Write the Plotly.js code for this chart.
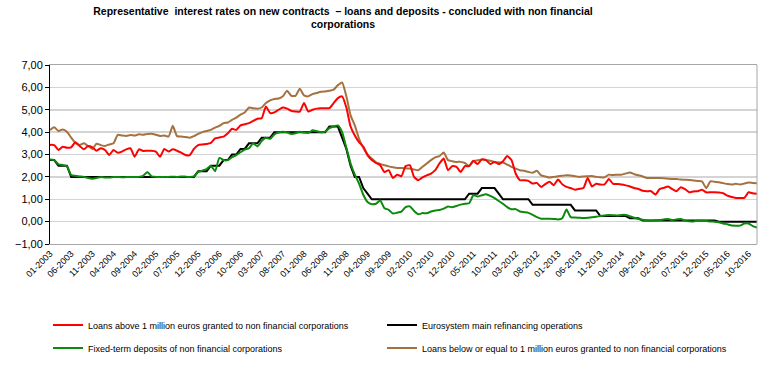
<!DOCTYPE html>
<html>
<head>
<meta charset="utf-8">
<script src="https://cdn.plot.ly/plotly-3.0.1.min.js"></script>
<style>
html,body{margin:0;padding:0;background:#fff;}
#chart{width:771px;height:379px;}
</style>
</head>
<body>
<div id="chart"></div>
<script>
// Monthly categories 01-2003 .. 12-2016
const startYear = 2003, endYear = 2016;
const months = [];
for (let y = startYear; y <= endYear; y++) {
  for (let m = 1; m <= 12; m++) months.push((m < 10 ? '0' : '') + m + '-' + y);
}

const seriesNames = [
  'Loans above 1 million euros granted to non financial corporations',
  'Eurosystem main refinancing operations',
  'Fixed-term deposits of non financial corporations',
  'Loans below or equal to 1 million euros granted to non financial corporations'
];

const loansAbove1M = [
  3.43,3.42,3.20,3.35,3.30,3.32,3.55,3.38,3.23,3.38,3.32,3.17,
  3.28,3.20,2.98,3.20,3.08,3.13,3.23,3.28,2.90,3.23,3.16,3.17,
  3.17,3.13,2.90,3.25,3.13,3.23,3.17,3.08,2.98,2.97,3.25,3.42,
  3.45,3.47,3.52,3.72,3.76,3.80,3.95,4.15,4.10,4.30,4.35,4.40,
  4.50,4.60,4.62,5.15,4.85,4.88,5.00,5.10,5.05,4.95,4.92,4.92,
  5.30,4.92,5.00,5.05,5.07,5.07,5.07,5.30,5.52,5.60,5.10,4.25,
  3.85,3.55,3.35,2.97,2.75,2.62,2.52,2.22,2.30,1.95,2.10,2.03,
  2.48,2.52,2.00,1.85,1.98,2.07,2.15,2.30,2.60,2.82,2.30,2.48,
  2.45,2.22,2.48,2.48,2.72,2.57,2.78,2.75,2.57,2.67,2.57,2.70,
  2.93,2.75,2.15,1.85,1.85,1.82,1.70,1.73,1.55,1.68,1.78,1.63,
  1.88,1.67,1.55,1.50,1.43,1.46,1.50,1.95,1.57,1.69,1.66,1.66,
  1.91,1.69,1.68,1.66,1.62,1.57,1.50,1.46,1.38,1.36,1.36,1.21,
  1.45,1.51,1.57,1.45,1.36,1.54,1.45,1.31,1.35,1.36,1.42,1.31,
  1.31,1.31,1.30,1.27,1.16,1.10,1.06,1.06,1.06,1.31,1.27,1.24
];

const mainRefinancing = [
  2.75,2.75,2.50,2.50,2.50,2.00,2.00,2.00,2.00,2.00,2.00,2.00,
  2.00,2.00,2.00,2.00,2.00,2.00,2.00,2.00,2.00,2.00,2.00,2.00,
  2.00,2.00,2.00,2.00,2.00,2.00,2.00,2.00,2.00,2.00,2.00,2.25,
  2.25,2.25,2.50,2.50,2.50,2.75,2.75,3.00,3.00,3.25,3.25,3.50,
  3.50,3.50,3.75,3.75,3.75,4.00,4.00,4.00,4.00,4.00,4.00,4.00,
  4.00,4.00,4.00,4.00,4.00,4.00,4.25,4.25,4.25,3.75,3.25,2.50,
  2.00,2.00,1.50,1.25,1.00,1.00,1.00,1.00,1.00,1.00,1.00,1.00,
  1.00,1.00,1.00,1.00,1.00,1.00,1.00,1.00,1.00,1.00,1.00,1.00,
  1.00,1.00,1.00,1.25,1.25,1.25,1.50,1.50,1.50,1.50,1.25,1.00,
  1.00,1.00,1.00,1.00,1.00,1.00,0.75,0.75,0.75,0.75,0.75,0.75,
  0.75,0.75,0.75,0.75,0.50,0.50,0.50,0.50,0.50,0.50,0.25,0.25,
  0.25,0.25,0.25,0.25,0.25,0.15,0.15,0.15,0.05,0.05,0.05,0.05,
  0.05,0.05,0.05,0.05,0.05,0.05,0.05,0.05,0.05,0.05,0.05,0.05,
  0.05,0.05,0.00,0.00,0.00,0.00,0.00,0.00,0.00,0.00,0.00,0.00
];

const fixedTermDeposits = [
  2.78,2.75,2.56,2.53,2.48,2.08,2.05,2.02,2.00,1.95,1.92,1.95,
  2.00,1.97,1.97,1.99,2.00,1.98,1.99,1.99,2.00,2.00,2.05,2.22,
  2.02,2.00,1.99,2.00,2.00,2.01,2.00,2.02,2.01,2.00,2.02,2.22,
  2.28,2.35,2.50,2.25,2.85,2.75,2.75,2.88,2.97,3.10,3.22,3.28,
  3.50,3.36,3.60,3.75,3.70,3.90,3.98,4.02,3.99,3.92,3.95,4.02,
  3.98,3.96,4.08,4.04,3.99,4.02,4.18,4.25,4.30,4.00,3.30,2.60,
  2.10,1.70,1.20,0.88,0.78,0.80,0.95,0.60,0.53,0.36,0.40,0.45,
  0.65,0.68,0.48,0.33,0.38,0.37,0.45,0.50,0.52,0.58,0.68,0.64,
  0.70,0.76,0.80,0.82,1.18,1.12,1.18,1.22,1.15,1.05,0.92,0.80,
  0.65,0.55,0.56,0.45,0.42,0.39,0.30,0.20,0.13,0.13,0.13,0.12,
  0.10,0.15,0.54,0.20,0.18,0.17,0.16,0.17,0.20,0.22,0.25,0.27,
  0.30,0.29,0.27,0.30,0.30,0.24,0.17,0.12,0.08,0.05,0.04,0.06,
  0.07,0.10,0.12,0.07,0.10,0.12,0.04,0.02,0.01,0.04,0.04,0.03,
  0.01,0.00,-0.03,-0.08,-0.12,-0.17,-0.18,-0.18,-0.08,-0.08,-0.20,-0.27
];

const loansBelow1M = [
  4.10,4.22,4.05,4.12,4.02,3.75,3.52,3.43,3.50,3.38,3.25,3.48,
  3.42,3.38,3.45,3.50,3.88,3.85,3.83,3.87,3.85,3.90,3.88,3.92,
  3.93,3.88,3.83,3.85,3.80,4.28,3.82,3.80,3.78,3.75,3.82,3.92,
  4.00,4.05,4.10,4.20,4.28,4.40,4.43,4.55,4.65,4.78,4.88,5.10,
  5.07,5.05,5.10,5.30,5.42,5.48,5.50,5.60,5.85,5.62,5.62,5.94,
  5.64,5.60,5.70,5.75,5.80,5.82,5.85,5.90,6.10,6.22,5.60,4.75,
  4.30,3.70,3.30,3.00,2.82,2.65,2.58,2.52,2.47,2.43,2.40,2.40,
  2.38,2.37,2.33,2.30,2.45,2.60,2.75,2.87,2.93,3.09,2.75,2.70,
  2.67,2.67,2.62,2.48,2.70,2.74,2.78,2.75,2.72,2.67,2.65,2.64,
  2.55,2.45,2.37,2.30,2.27,2.22,2.18,2.27,2.07,2.02,1.97,2.00,
  2.03,2.05,2.07,2.06,2.03,2.00,2.02,2.03,2.04,2.00,1.98,1.98,
  2.10,2.08,2.10,2.10,2.15,2.19,2.12,2.07,2.02,1.95,1.95,1.95,
  1.95,1.94,1.92,1.90,1.90,1.88,1.87,1.86,1.84,1.82,1.80,1.50,
  1.80,1.78,1.76,1.72,1.68,1.66,1.69,1.66,1.70,1.75,1.73,1.72
];

const tickIdx = [];
const tickText = [];
for (let i = 0; i < months.length; i += 5) { tickIdx.push(i); tickText.push(months[i]); }

const colors = ['#ff0000', '#000000', '#0b8a0b', '#a5713f'];
const values = [loansAbove1M, mainRefinancing, fixedTermDeposits, loansBelow1M];
const legendOf = ['legend', 'legend3', 'legend2', 'legend4'];

const traces = values.map((v, k) => ({
  type: 'scatter', mode: 'lines',
  x: months, y: v, name: seriesNames[k],
  xaxis: 'x2', yaxis: 'y',
  legend: legendOf[k],
  line: {color: colors[k], width: 2, shape: k === 1 ? 'linear' : 'spline', smoothing: 0.5}
}));
const order = [1, 2, 3, 0];
const data = order.map(k => traces[k]);

const legendFont = {family: 'Liberation Sans, Arial, sans-serif', size: 9, color: '#000'};
function mkLegend(xpx, ypx) {
  return {
    orientation: 'v', x: (xpx - 50) / 707, xanchor: 'left',
    y: (244 - ypx) / 179, yanchor: 'middle',
    font: legendFont, bgcolor: 'rgba(0,0,0,0)'
  };
}

const layout = {
  width: 771, height: 379,
  margin: {l: 50, r: 14, t: 65, b: 135},
  paper_bgcolor: '#ffffff', plot_bgcolor: '#ffffff',
  separators: ', ',
  font: {family: 'Liberation Sans, Arial, sans-serif', color: '#000'},
  title: {
    text: '<b>Representative  interest rates on new contracts  – loans and deposits - concluded with non financial<br>corporations</b>',
    font: {family: 'Liberation Sans, Arial, sans-serif', size: 10.5, color: '#000'},
    xref: 'container', x: 343 / 771, xanchor: 'center',
    yref: 'container', y: 0.961, yanchor: 'top'
  },
  xaxis2: {
    type: 'category', range: [0, months.length - 1],
    anchor: 'y', side: 'bottom',
    showline: true, linecolor: '#a6a6a6', linewidth: 1, mirror: true,
    showgrid: false, zeroline: false,
    tickmode: 'array', tickvals: tickIdx.map(i => months[i]), ticktext: tickText,
    ticks: '', tickangle: -45,
    tickfont: {family: 'Liberation Sans, Arial, sans-serif', size: 9, color: '#000'}
  },
  xaxis: {
    type: 'linear', range: [0, months.length - 1],
    overlaying: 'x2', anchor: 'free', position: 0.125,
    showline: true, linecolor: '#000', linewidth: 1.5,
    showgrid: false, zeroline: false,
    tickmode: 'linear', tick0: 0, dtick: 1,
    ticks: 'outside', ticklen: 4, tickwidth: 1, tickcolor: '#000',
    showticklabels: false
  },
  yaxis: {
    range: [-1, 7], dtick: 1, tick0: 0, tickformat: '.2f',
    showline: true, linecolor: '#000', linewidth: 1,
    ticks: 'outside', ticklen: 4, tickcolor: '#000',
    showgrid: true, gridcolor: '#d4d4d4', gridwidth: 1.5,
    zeroline: false,
    tickfont: {family: 'Liberation Sans, Arial, sans-serif', size: 11, color: '#000'}
  },
  shapes: [{type: 'line', xref: 'paper', yref: 'paper', x0: 1, x1: 1, y0: 0, y1: 1, line: {color: '#a6a6a6', width: 1}}],
  legend: mkLegend(48, 325),
  legend3: mkLegend(382, 325),
  legend2: mkLegend(48, 348),
  legend4: mkLegend(382, 348),
  showlegend: true
};

Plotly.newPlot('chart', data, layout, {displayModeBar: false, staticPlot: true});
</script>
</body>
</html>
